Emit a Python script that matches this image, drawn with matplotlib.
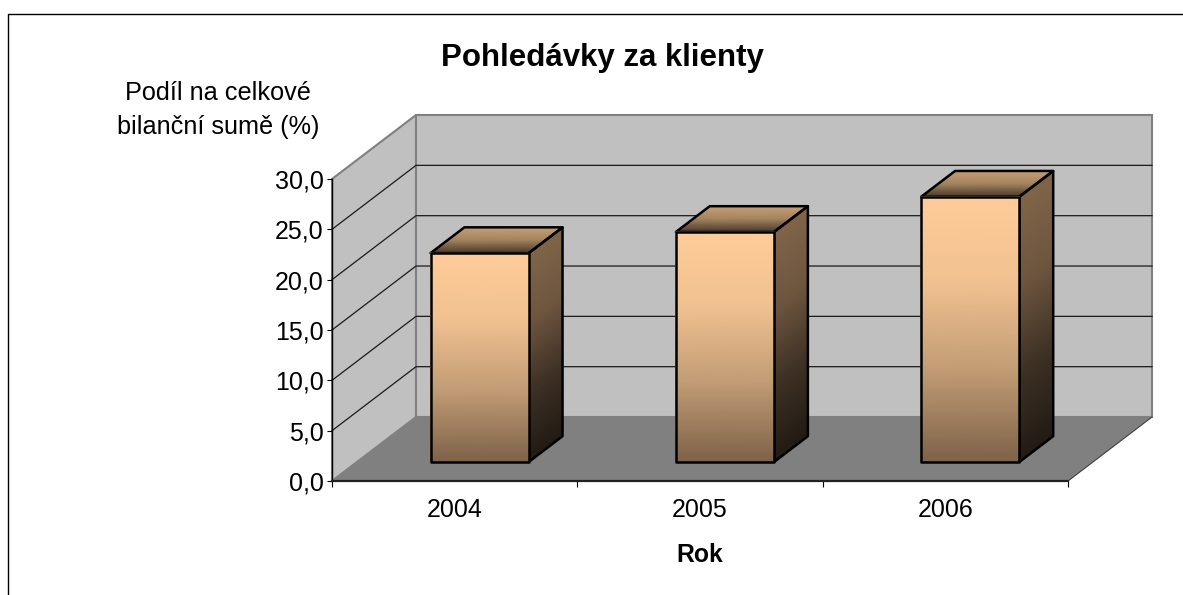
import numpy as np
from matplotlib import pyplot as plt
from matplotlib.colors import LinearSegmentedColormap
from matplotlib.lines import Line2D
from matplotlib.patches import Polygon

plt.rcParams['font.family'] = ['Liberation Sans', 'DejaVu Sans']

years = ['2004', '2005', '2006']
values = [20.75, 22.85, 26.35]
y_ticks = [0, 5, 10, 15, 20, 25, 30]
y_labels = ['0,0', '5,0', '10,0', '15,0', '20,0', '25,0', '30,0']

W, H = 1183, 595
DX = 84 / 245.33   # hloubka grafu v jednotkach kategorie
DY = 64 / 10.07    # hloubka grafu v jednotkach osy y
BAR_W = 0.4
D0, D1 = 0.297, 0.70  # zacatek a konec sloupce v hloubce

fig = plt.figure(figsize=(W / 100, H / 100), dpi=100)
ax = fig.add_axes([332 / W, 1 - 481 / H, 736 / W, 302 / H])
ax.patch.set_visible(False)
ax.set_xlim(0, 3)
ax.set_ylim(0, 30)


def shift(x, y, d):
    return x + DX * d, y + DY * d


def quad(x0, y0, x1, y1, x2, y2, x3, y3):
    return np.array([[x0, y0], [x1, y1], [x2, y2], [x3, y3]])


def gradient(corners, stops, z):
    # corners: horni leva, horni prava, dolni prava, dolni leva
    n = 24
    t = np.linspace(0, 1, n)[:, None]
    tl, tr, br, bl = corners
    X = np.hstack([tl[0] + (bl[0] - tl[0]) * t, tr[0] + (br[0] - tr[0]) * t])
    Y = np.hstack([tl[1] + (bl[1] - tl[1]) * t, tr[1] + (br[1] - tr[1]) * t])
    cmap = LinearSegmentedColormap.from_list('g', stops)
    ax.pcolormesh(X, Y, np.hstack([t, t]), shading='gouraud', cmap=cmap, vmin=0, vmax=1,
                  zorder=z, clip_on=False)
    ax.add_patch(Polygon(corners, closed=True, fill=False, ec='black', lw=1.8, zorder=z + 0.5,
                         joinstyle='round', clip_on=False))


# steny a podlaha
bx, by = shift(0, 0, 1)
ex, ey = shift(3, 30, 1)
ax.add_patch(Polygon([(0, 0), (0, 30), (bx, ey), (bx, by)], fc='#C0C0C0', ec='#808080', lw=1.5, zorder=1, clip_on=False))
ax.add_patch(Polygon([(bx, by), (bx, ey), (ex, ey), (ex, by)], fc='#C0C0C0', ec='#808080', lw=1.5, zorder=1, clip_on=False))
ax.add_patch(Polygon([(0, 0), (3, 0), (ex, by), (bx, by)], fc='#808080', ec='none', zorder=1.2, clip_on=False))
ax.plot([3, ex], [0, by], color='#404040', lw=0.8, zorder=1.3, clip_on=False)

# mrizka
for v in y_ticks[1:-1]:
    ax.plot([0, bx, ex], [v, v + DY, v + DY], color='#1a1a1a', lw=0.9, zorder=1.5, clip_on=False)

# sloupce
for i, v in enumerate(values):
    x0 = i + 0.5 - BAR_W / 2
    x1 = i + 0.5 + BAR_W / 2
    fx0, fb = shift(x0, 0, D0)
    fx1, ft = shift(x1, v, D0)
    bx0, bb = shift(x0, 0, D1)
    bx1, bt = shift(x1, v, D1)
    gradient(quad(bx0, bt, bx1, bt, fx1, ft, fx0, ft), ['#C69F76', '#A58560', '#4A3B2D'], 3)
    gradient(quad(fx1, ft, bx1, bt, bx1, bb, fx1, fb), ['#806548', '#6E563F', '#3E3125', '#221B14'], 3)
    gradient(quad(fx0, ft, fx1, ft, fx1, fb, fx0, fb), ['#FFCC99', '#EFC08F', '#BF9A73', '#7D6248'], 4)

ax.spines[['top', 'right']].set_visible(False)
ax.spines['left'].set_linewidth(1)
ax.spines['bottom'].set_linewidth(1.6)
ax.spines['left'].set_zorder(5)
ax.spines['bottom'].set_zorder(5)
ax.spines['bottom'].set_color('#222222')

ax.set_yticks(y_ticks, labels=y_labels)
ax.set_xticks([0, 1, 2, 3], labels=[])
ax.set_xticks([0.5, 1.5, 2.5], labels=years, minor=True)
ax.tick_params(axis='y', length=3.6, width=0.8, labelsize=18, pad=2.5)
ax.tick_params(axis='x', which='major', length=4.5, width=0.8)
ax.tick_params(axis='x', which='minor', length=0, labelsize=18, pad=12.5)

fig.text(602 / W, 1 - 58 / H, 'Pohledávky za klienty', fontsize=22.5, fontweight='bold', ha='center', va='center')
fig.text(218 / W, 1 - 93 / H, 'Podíl na celkové', fontsize=18.2, ha='center', va='center')
fig.text(218 / W, 1 - 127 / H, 'bilanční sumě (%)', fontsize=18.2, ha='center', va='center')
fig.text(700 / W, 1 - 555 / H, 'Rok', fontsize=17.8, fontweight='bold', ha='center', va='center')

# ramecek grafu - dole a vpravo oriznuty
fig.add_artist(Line2D([8 / W, 8 / W, 1], [0, 1 - 14 / H, 1 - 14 / H], color='black', lw=1))

fig.savefig('out.png', dpi=100)
